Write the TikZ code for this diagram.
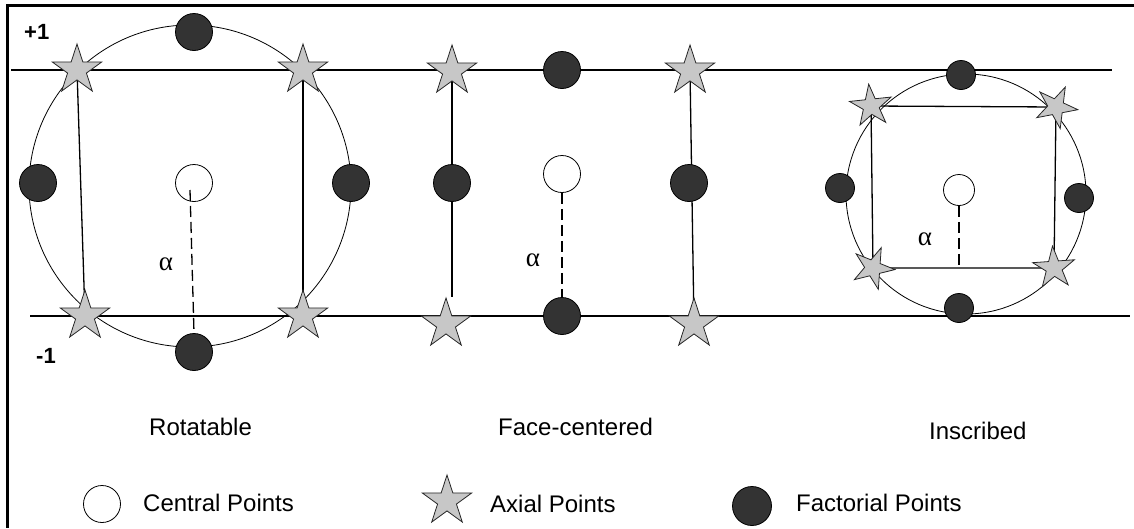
\documentclass[tikz,border=0pt]{standalone}
\usepackage{fontspec}
\setmainfont{Liberation Sans}
\newfontfamily\grkfont{Liberation Serif}
\usetikzlibrary{shapes.geometric,backgrounds}
\begin{document}
\begin{tikzpicture}[x=1pt,y=-1pt,
  conn/.style={line width=1.3pt},
  ring/.style={line width=0.8pt},
  dashconn/.style={line width=1.3pt,dash pattern=on 11pt off 5pt},
  axial/.style={star,star points=5,star point ratio=2.618,draw=black!85,fill=black!22,line width=0.8pt,inner sep=0pt,minimum size=52pt},
  axialsm/.style={axial,minimum size=44pt},
  factorial/.style={circle,draw=black,fill=black!80,line width=0.8pt,inner sep=0pt,minimum size=37pt},
  factorialsm/.style={factorial,minimum size=29pt},
  central/.style={circle,draw=black,fill=white,line width=0.8pt,inner sep=0pt,minimum size=37pt},
  centralsm/.style={central,minimum size=31pt},
  lab/.style={font=\fontsize{24}{28}\selectfont,anchor=base west,inner sep=0pt},
  lvl/.style={font=\fontsize{22}{26}\selectfont\bfseries,anchor=base west,inner sep=0pt},
  alpha/.style={font=\grkfont\fontsize{27}{30}\selectfont,inner sep=0pt}
]
\useasboundingbox (0,0) rectangle (1134,528);
% frame
\coordinate (ftl) at (7,5);
\coordinate (ftr) at (1134,5);
\coordinate (fbl) at (7,528);
\draw[line width=3pt] (ftr) -- (ftl) -- (fbl);
% level lines
\coordinate (pa) at (11,70);
\coordinate (pb) at (1112,70);
\coordinate (ma) at (30,316);
\coordinate (mb) at (1130,316);
\draw[conn] (pa) -- (pb);
\draw[conn] (ma) -- (mb);
\node[lvl] (plus) at (24,39) {+1};
\node[lvl] (minus) at (36,363) {-1};

% ---------------- Rotatable
\draw[ring] (190,186) circle[radius=161pt];
\node[axial] (rul) at (77,70) {};
\node[axial] (rur) at (303,70) {};
\node[axial] (rll) at (85,316) {};
\node[axial] (rlr) at (303,316) {};
\node[factorial] (rt) at (194,32) {};
\node[factorial] (rb) at (194,352) {};
\node[factorial] (rl) at (38,183) {};
\node[factorial] (rr) at (351,183) {};
\node[central] (rc) at (194,183) {};
\begin{scope}[on background layer]
\draw[conn] (rul.center) -- (rll.center);
\draw[conn] (rur.center) -- (rlr.center);
\end{scope}
\coordinate (rd) at (190,190);
\draw[dashconn] (rd) -- (rb.north);
\node[alpha] (ra) at (166,264) {α};

% ---------------- Face-centered
\node[axial] (ful) at (452,71) {};
\node[axial] (fur) at (690,71) {};
\node[axial] (fll) at (446,324) {};
\node[axial] (flr) at (694,324) {};
\node[factorial] (ft) at (562,70) {};
\node[factorial] (fb) at (562,316) {};
\node[factorial] (fl) at (452,183) {};
\node[factorial] (fr) at (689,183) {};
\node[central] (fc) at (562,174) {};
\coordinate (fle) at (452,297);
\begin{scope}[on background layer]
\draw[conn] (ful.center) -- (fle);
\draw[conn] (fur.center) -- (flr.center);
\end{scope}
\draw[dashconn] (fc.south) -- (fb.north);
\node[alpha] (fa) at (533,260) {α};

% ---------------- Inscribed
\draw[ring] (966,194) circle[radius=120pt];
\node[axialsm,rotate=6] (iul) at (871,106) {};
\node[axialsm,rotate=-25] (iur) at (1056,107) {};
\node[axialsm,rotate=-22] (ill) at (873,268) {};
\node[axialsm,rotate=4] (ilr) at (1054,268) {};
\node[factorialsm] (it) at (961,75) {};
\node[factorialsm] (ib) at (959,308) {};
\node[factorialsm] (il) at (840,188) {};
\node[factorialsm] (ir) at (1079,198) {};
\node[centralsm] (ic) at (959,190) {};
\begin{scope}[on background layer]
\draw[conn] (iul.center) -- (iur.center) -- (ilr.center) -- (ill.center) -- cycle;
\end{scope}
\coordinate (ie) at (959,268);
\draw[dashconn] (ic.south) -- (ie);
\node[alpha] (ia) at (925,239) {α};

% ---------------- titles
\node[lab] (trot) at (149,435) {Rotatable};
\node[lab] (tfc) at (498,435) {Face-centered};
\node[lab] (tins) at (929,439) {Inscribed};

% ---------------- legend
\node[central] (lc) at (102,504) {};
\node[lab] (lct) at (143,511) {Central Points};
\node[axial] (la) at (447,501) {};
\node[lab] (lat) at (490,512) {Axial Points};
\node[factorial,minimum size=39pt] (lf) at (752,506) {};
\node[lab] (lft) at (796,511) {Factorial Points};
\end{tikzpicture}
\end{document}
